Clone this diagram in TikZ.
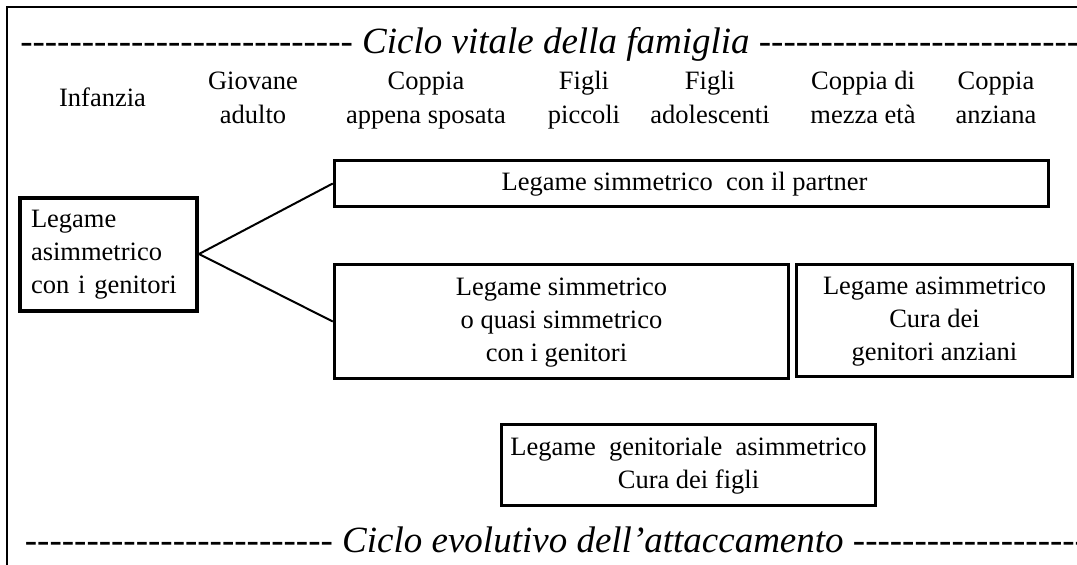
\documentclass[tikz,border=0pt]{standalone}
\usepackage{fontspec}
\setmainfont{Liberation Serif}[Ligatures=TeXOff]
\begin{document}
\begin{tikzpicture}[x=1pt,y=-1pt,
  lbl/.style={font=\fontsize{26.5}{34}\selectfont, align=center, inner sep=0pt},
  box/.style={draw, line width=3.5pt, font=\fontsize{26.5}{33}\selectfont, align=center, inner sep=0pt},
  ttl/.style={font=\fontsize{37}{44}\selectfont\itshape, inner sep=0pt, anchor=base west},
  conn/.style={line width=2pt}]
\useasboundingbox (0,0) rectangle (1077,565);
% frame
\draw[line width=2.5pt] (7,570) -- (7,7) -- (1085,7);
% titles
\node[ttl] (t1) at (362,53) {\llap{--------------------------- }Ciclo vitale della famiglia\rlap{ ------------------------------}};
\node[ttl] (t2) at (342,552) {\llap{------------------------- }Ciclo evolutivo dell’attaccamento\rlap{ ------------------------------}};
% stages
\node[lbl] (s1) at (102.5,99.2) {\strut Infanzia\strut};
\node[lbl] (s2) at (253,99.2) {\strut Giovane\\adulto\strut};
\node[lbl] (s3) at (426,99.2) {\strut Coppia\\appena sposata\strut};
\node[lbl] (s4) at (584,99.2) {\strut Figli\\piccoli\strut};
\node[lbl] (s5) at (710,99.2) {\strut Figli\\adolescenti\strut};
\node[lbl] (s6) at (863,99.2) {\strut Coppia di\\mezza età\strut};
\node[lbl] (s7) at (996,99.2) {\strut Coppia\\anziana\strut};
% boxes
\node[box, line width=4pt, align=left, text width=155pt, inner xsep=11pt, minimum height=113pt] (L) at (108.5,254) {\strut Legame\\asimmetrico\\con i genitori\strut};
\node[box, minimum width=714pt, minimum height=46pt] (P) at (691.5,183.5) {\strut Legame simmetrico\ \ con il partner\hspace{14pt}\strut};
\node[box, minimum width=454pt, minimum height=114pt] (M) at (561.5,321.5) {\strut Legame simmetrico\\o quasi simmetrico\\con i genitori\hspace{10pt}\strut};
\node[box, minimum width=276pt, minimum height=112pt] (R) at (934.5,320.5) {\strut Legame asimmetrico\\Cura dei\\genitori anziani\strut};
\node[box, minimum width=374pt, minimum height=81pt] (B) at (688.5,465) {\strut Legame\ \ genitoriale\ \ asimmetrico\\Cura dei figli\strut};
% connectors
\draw[conn] (L.east) -- (P.west);
\draw[conn] (L.east) -- (M.west);
\end{tikzpicture}
\end{document}
